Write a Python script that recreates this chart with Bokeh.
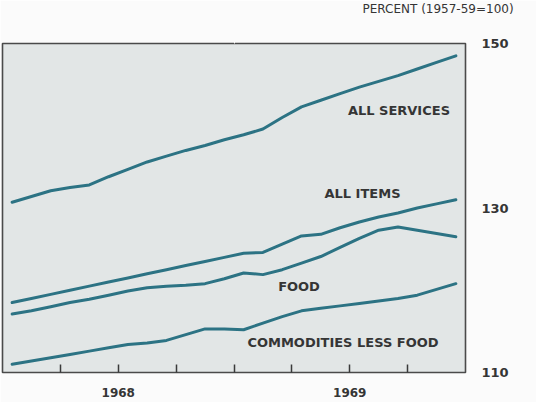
from bokeh.plotting import figure
from bokeh.models import Range1d, FixedTicker, Label, LinearAxis
from bokeh.embed import file_html
from bokeh.resources import INLINE

# Monthly data, Jan 1968 - Dec 1969 (index, 1957-59 = 100)
months = ["1968-01", "1968-02", "1968-03", "1968-04", "1968-05", "1968-06",
          "1968-07", "1968-08", "1968-09", "1968-10", "1968-11", "1968-12",
          "1969-01", "1969-02", "1969-03", "1969-04", "1969-05", "1969-06",
          "1969-07", "1969-08", "1969-09", "1969-10", "1969-11", "1969-12"]
all_services = [130.7, 131.4, 132.1, 132.5, 132.8, 133.8, 134.7, 135.6, 136.3, 137.0, 137.6, 138.3,
                138.9, 139.6, 141.0, 142.3, 143.1, 143.9, 144.7, 145.4, 146.1, 146.9, 147.7, 148.5]
all_items = [118.5, 119.0, 119.5, 120.0, 120.5, 121.0, 121.5, 122.0, 122.5, 123.0, 123.5, 124.0,
             124.5, 124.6, 125.6, 126.6, 126.8, 127.6, 128.3, 128.9, 129.4, 130.0, 130.5, 131.0]
food = [117.1, 117.5, 118.0, 118.5, 118.9, 119.4, 119.9, 120.3, 120.5, 120.6, 120.8, 121.4,
        122.1, 121.9, 122.5, 123.3, 124.1, 125.2, 126.3, 127.3, 127.7, 127.3, 126.9, 126.5]
commodities_less_food = [111.0, 111.4, 111.8, 112.2, 112.6, 113.0, 113.4, 113.6, 113.9, 114.6, 115.3, 115.3,
                         115.2, 116.0, 116.8, 117.5, 117.8, 118.1, 118.4, 118.7, 119.0, 119.4, 120.1, 120.8]
y_ticks = [110, 130, 150]
quarter_ticks = [3, 6, 9, 12, 15, 18, 21]
year_labels = {6: "1968", 18: "1969"}

x = [i + 0.5 for i in range(len(months))]

LINE = "#2c7384"
TEXT = "#353535"
PAPER = "#fbfbfb"

p = figure(width=536, height=402, output_backend="svg", toolbar_location=None,
           x_range=Range1d(0, 24), y_range=Range1d(110, 150),
           y_axis_location="right",
           min_border_left=2, min_border_right=71, min_border_top=41, min_border_bottom=30)
p.background_fill_color = "#e2e6e6"
p.border_fill_color = PAPER
p.outline_line_color = "#4a4a4a"
p.outline_line_width = 1.6
p.grid.visible = False

# x axis (below): quarter tick marks inside, year labels
xa = p.below[0]
xa.ticker = FixedTicker(ticks=quarter_ticks)
xa.major_label_overrides = {t: year_labels.get(t, "") for t in quarter_ticks}
xa.major_tick_in = 8
xa.major_tick_out = 0
xa.major_tick_line_color = "#3a3a3a"
xa.major_tick_line_width = 1.5
xa.minor_tick_line_color = None
xa.axis_line_color = None
xa.major_label_standoff = 15
xa.major_label_text_font = "DejaVu Sans"
xa.major_label_text_font_style = "bold"
xa.major_label_text_font_size = "12px"
xa.major_label_text_color = TEXT

ya = p.right[0]
ya.ticker = FixedTicker(ticks=y_ticks)
ya.major_tick_in = 0
ya.major_tick_out = 0
ya.minor_tick_line_color = None
ya.axis_line_color = None
ya.major_label_standoff = 16
ya.major_label_text_font = "DejaVu Sans"
ya.major_label_text_font_style = "bold"
ya.major_label_text_font_size = "13px"
ya.major_label_text_color = TEXT

# spacer axis above the box (paper-coloured, unseen), pushes the unit note to the top edge
spacer = LinearAxis(ticker=FixedTicker(ticks=[12]), major_tick_out=25, major_tick_in=0,
                    major_label_standoff=0, major_label_overrides={12: ""},
                    major_label_text_font_size="1px",
                    axis_line_color=None, major_tick_line_color=PAPER,
                    minor_tick_line_color=None)
p.add_layout(spacer, "above")

# unit note, top right
p.title.text = "PERCENT (1957-59=100)"
p.title.align = "left"
p.title.vertical_align = "top"
p.title.offset = 360
p.title.standoff = 2
p.title.text_font = "DejaVu Sans"
p.title.text_font_style = "normal"
p.title.text_font_size = "12px"
p.title.text_color = TEXT

for series in (all_services, all_items, food, commodities_less_food):
    p.line(x, series, line_color=LINE, line_width=3, line_join="round", line_cap="round")

def add_label(txt, xm, yv):
    p.add_layout(Label(x=xm, y=yv, text=txt, text_font="DejaVu Sans", text_font_style="bold",
                       text_font_size="13px", text_color=TEXT, text_align="center",
                       text_baseline="middle"))

add_label("ALL SERVICES", 20.55, 141.8)
add_label("ALL ITEMS", 18.66, 131.75)
add_label("FOOD", 15.37, 120.4)
add_label("COMMODITIES LESS FOOD", 17.65, 113.6)

open("out.html", "w").write(file_html(p, INLINE))
